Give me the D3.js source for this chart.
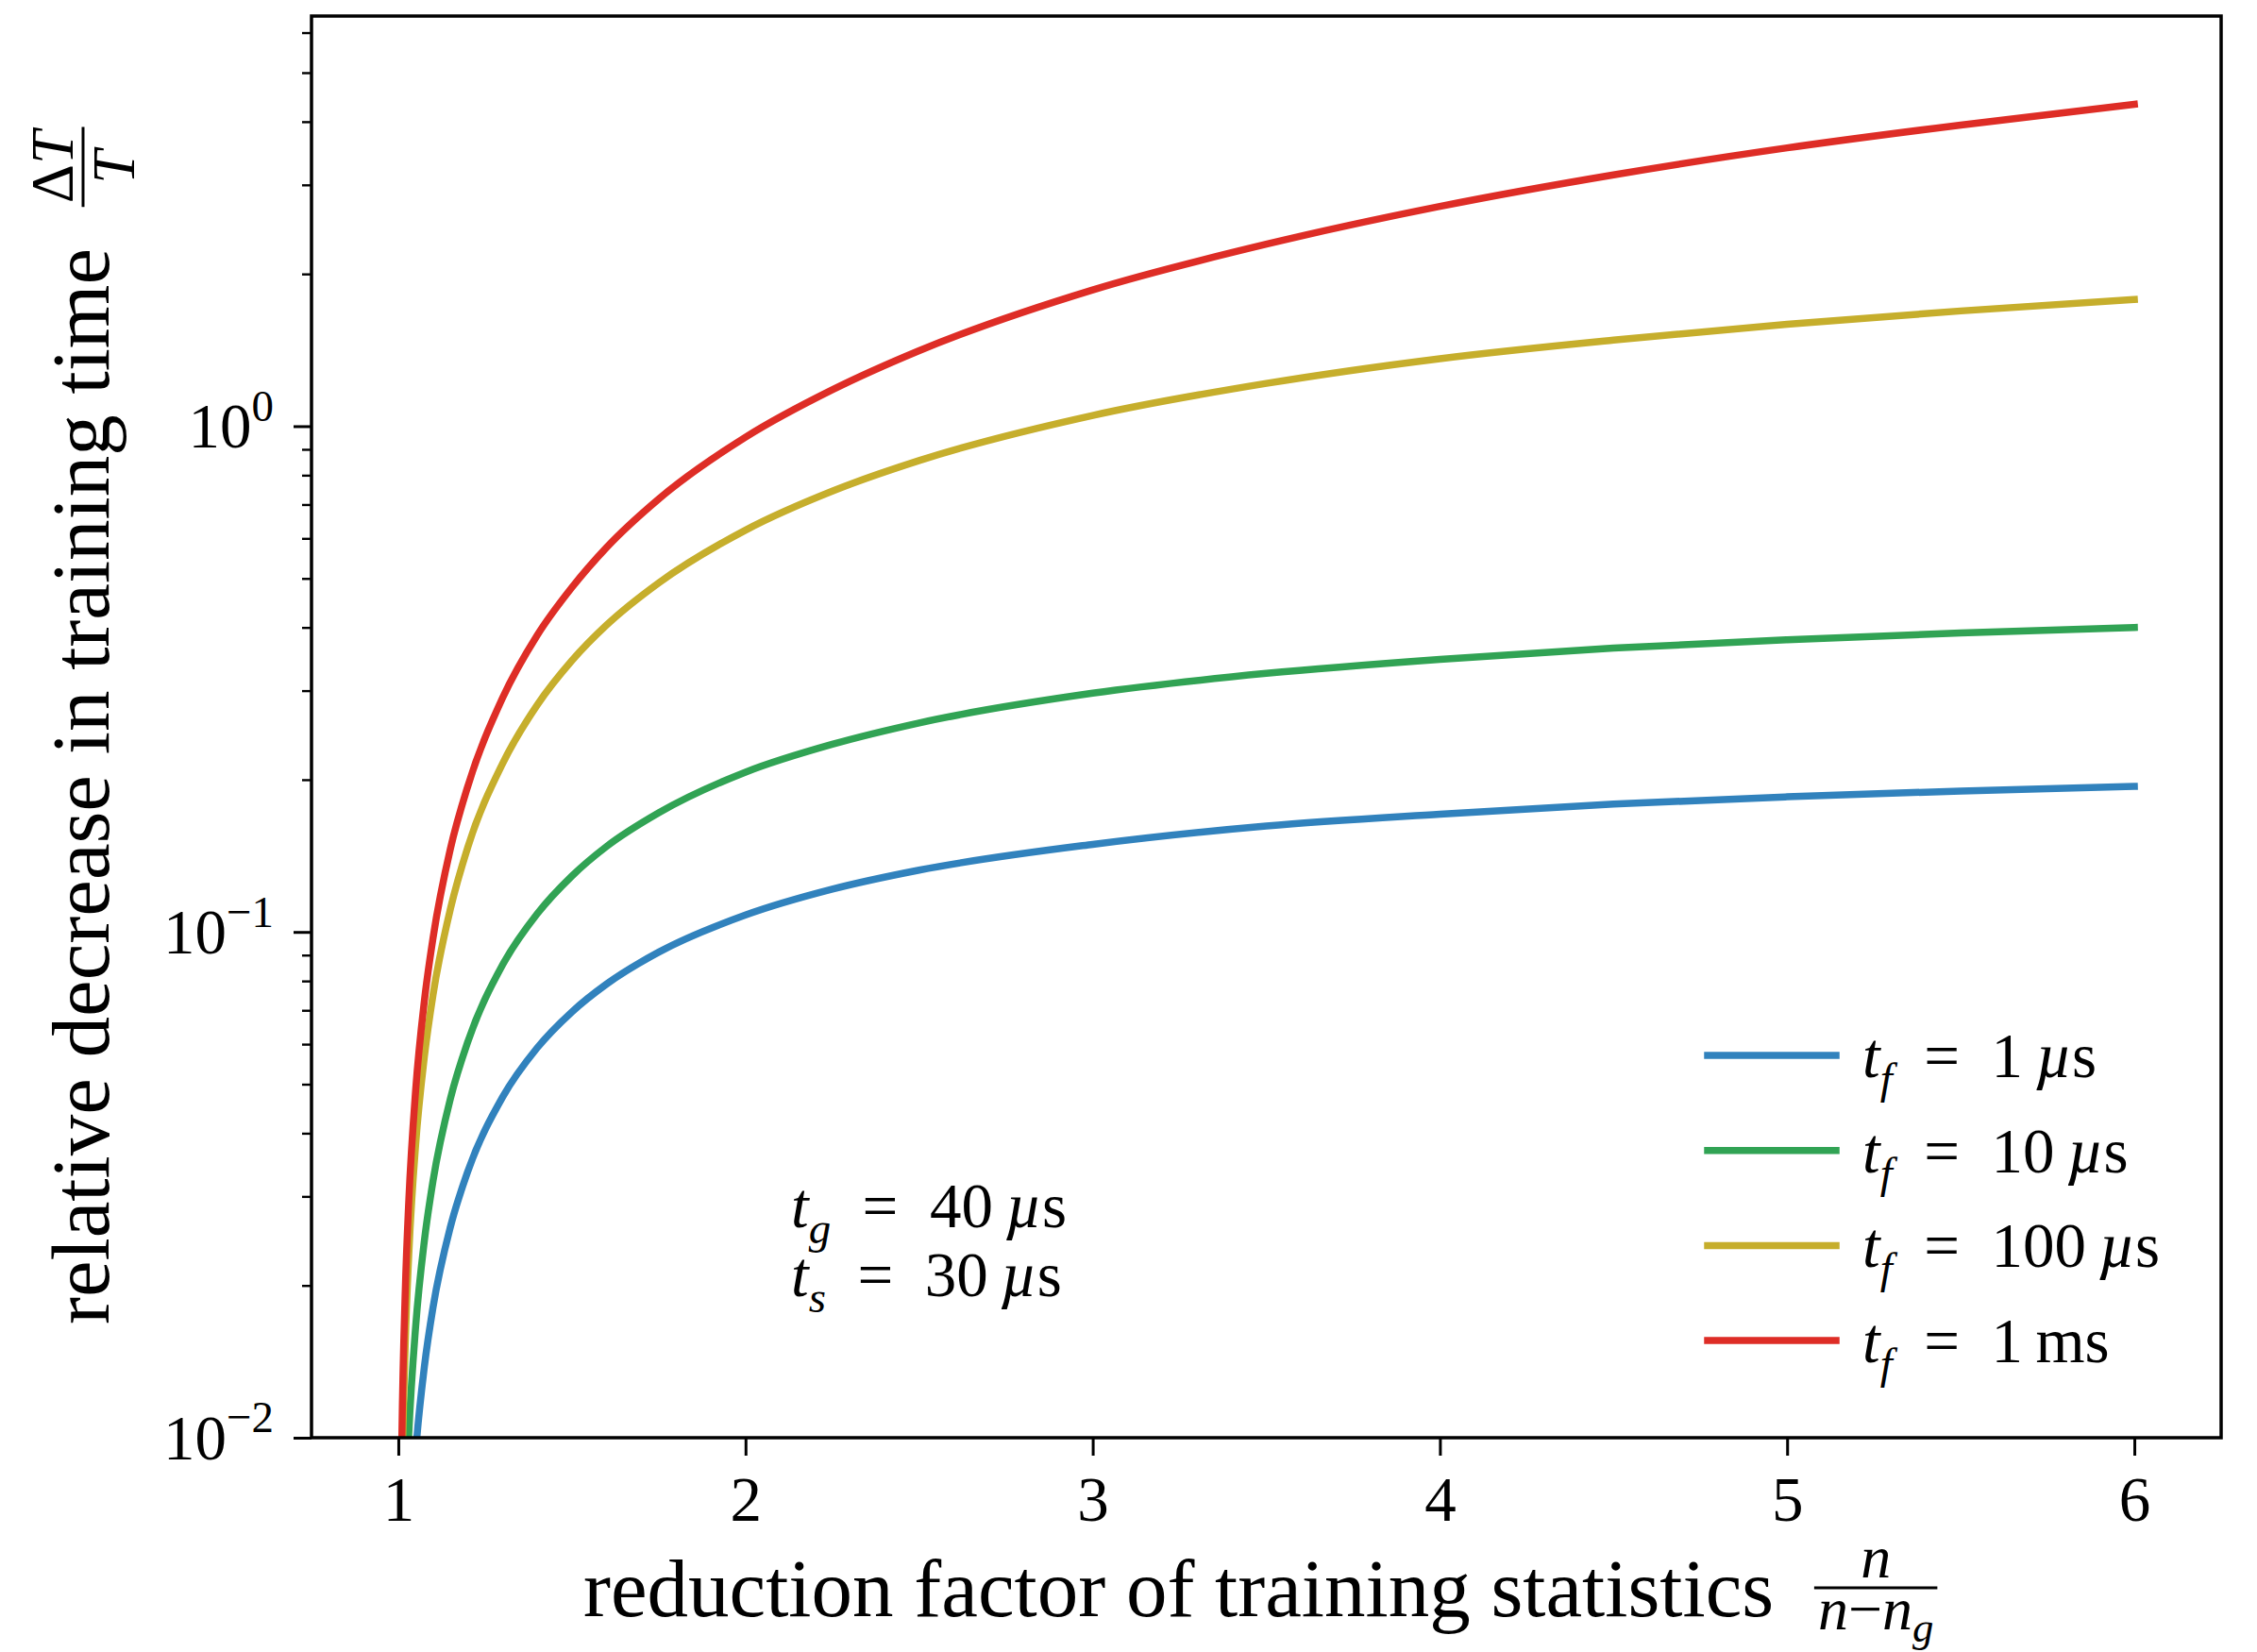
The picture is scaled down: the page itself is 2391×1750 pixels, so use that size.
<!DOCTYPE html>
<html>
<head>
<meta charset="utf-8">
<script src="https://cdn.jsdelivr.net/npm/d3@7"></script>
<style>
  body { margin: 0; background: #fff; }
  svg { display: block; }
  text { font-family: "Liberation Serif", "DejaVu Serif", serif; fill: #000; white-space: pre; }
</style>
</head>
<body>
<div id="chart"></div>
<script>
// reduction factor n/(n-n_g), shared x values of all curves
const ratio = [1.005, 1.01, 1.02, 1.03, 1.05, 1.075, 1.1, 1.15, 1.2, 1.3, 1.4, 1.5, 1.6, 1.75, 2, 2.25, 2.5, 3, 3.5, 4, 4.5, 5, 5.5, 6];

// relative decrease in training time
const tf1us = [0.00097, 0.00193, 0.00384, 0.00571, 0.00937, 0.0138, 0.0181, 0.0261, 0.0336, 0.0471, 0.059, 0.0695, 0.0789, 0.0912, 0.108, 0.1215, 0.1325, 0.149, 0.162, 0.171, 0.179, 0.185, 0.19, 0.194];
const tf10us = [0.00171, 0.0034, 0.00677, 0.0101, 0.0166, 0.0245, 0.0322, 0.0468, 0.0606, 0.086, 0.1086, 0.129, 0.1476, 0.172, 0.207, 0.235, 0.259, 0.2965, 0.3245, 0.346, 0.364, 0.378, 0.39, 0.4];
const tf100us = [0.00384, 0.00766, 0.0153, 0.0229, 0.038, 0.0566, 0.0751, 0.111, 0.147, 0.215, 0.281, 0.344, 0.4045, 0.49, 0.623, 0.744, 0.855, 1.05, 1.215, 1.36, 1.48, 1.59, 1.69, 1.78];
const tf1ms = [0.00487, 0.00975, 0.0195, 0.0292, 0.0487, 0.073, 0.0973, 0.146, 0.194, 0.29, 0.386, 0.48, 0.576, 0.718, 0.951, 1.18, 1.41, 1.86, 2.29, 2.72, 3.14, 3.55, 3.94, 4.33];

const tfValue = ["1", "10", "100", "1"];
const tfUnit = ["µs", "µs", "µs", "ms"];
const colors = ["#3182bd", "#31a354", "#c6ae2c", "#de2d26"];

const xTicks = [1, 2, 3, 4, 5, 6];
const yMajor = [0.01, 0.1, 1];
const yMajorExp = ["\u22122", "\u22121", "0"];
const yMinor = [0.02, 0.03, 0.04, 0.05, 0.06, 0.07, 0.08, 0.09,
  0.2, 0.3, 0.4, 0.5, 0.6, 0.7, 0.8, 0.9, 2, 3, 4, 5, 6];

const series = [tf1us, tf10us, tf100us, tf1ms].map((values, i) => ({
  values, color: colors[i], tf: tfValue[i], unit: tfUnit[i]
}));

const width = 2391;
const height = 1750;
const margin = { top: 17, right: 38, bottom: 227, left: 330 };
const tickFont = 67;
const labelFont = 87;

const x = d3.scaleLinear()
  .domain([0.75, 6.25])
  .range([margin.left, width - margin.right]);

const y = d3.scaleLog()
  .domain([0.01, 6.47])
  .range([height - margin.bottom, margin.top]);

const svg = d3.create("svg")
  .attr("width", width)
  .attr("height", height)
  .attr("viewBox", [0, 0, width, height]);

// attach first so text can be measured
document.getElementById("chart").append(svg.node());

svg.append("rect").attr("width", width).attr("height", height).attr("fill", "#fff");

// math-ish text: parts are [string, kind] with kind r / i / sub / sup
function addMath(text, parts, size, subShift = 0.25) {
  let shift = 0;
  parts.forEach(([s, kind]) => {
    const small = kind === "sub" || kind === "sup";
    const target = kind === "sub" ? subShift * size : kind === "sup" ? -0.42 * size : 0;
    text.append("tspan")
      .attr("dy", target - shift)
      .attr("font-size", small ? size * 0.7 : size)
      .attr("font-style", kind === "i" || kind === "sub" ? "italic" : "normal")
      .text(s);
    shift = target;
  });
  return text;
}

svg.append("clipPath").attr("id", "plot-clip")
  .append("rect")
  .attr("x", margin.left)
  .attr("y", margin.top)
  .attr("width", width - margin.left - margin.right)
  .attr("height", height - margin.top - margin.bottom);

const line = d3.line()
  .x((d, i) => x(ratio[i]))
  .y((d) => y(d))
  .curve(d3.curveMonotoneX);

svg.append("g")
  .attr("clip-path", "url(#plot-clip)")
  .selectAll("path")
  .data(series)
  .join("path")
  .attr("fill", "none")
  .attr("stroke", (d) => d.color)
  .attr("stroke-width", 7.5)
  .attr("stroke-linecap", "square")
  .attr("stroke-linejoin", "round")
  .attr("d", (d) => line(d.values));

// x axis
const gx = svg.append("g")
  .attr("transform", `translate(0,${height - margin.bottom})`)
  .call(d3.axisBottom(x).tickValues(xTicks).tickSize(19).tickFormat(d3.format("d")));
gx.select(".domain").remove();
gx.selectAll(".tick line").attr("stroke", "#000").attr("stroke-width", 3);
gx.selectAll(".tick text")
  .attr("y", 88).attr("dy", null)
  .attr("font-size", tickFont)
  .attr("font-family", "Liberation Serif");

// y axis: minor then major
const gyMinor = svg.append("g")
  .attr("transform", `translate(${margin.left},0)`)
  .call(d3.axisLeft(y).tickValues(yMinor).tickSize(10).tickFormat(""));
gyMinor.select(".domain").remove();
gyMinor.selectAll(".tick line").attr("stroke", "#000").attr("stroke-width", 2.4);

const gy = svg.append("g")
  .attr("transform", `translate(${margin.left},0)`)
  .call(d3.axisLeft(y).tickValues(yMajor).tickSize(19).tickFormat(""));
gy.select(".domain").remove();
gy.selectAll(".tick line").attr("stroke", "#000").attr("stroke-width", 3);
gy.selectAll(".tick text").remove();
gy.selectAll(".tick").each(function (d, i) {
  const t = d3.select(this).append("text")
    .attr("x", -40)
    .attr("y", 22)
    .attr("text-anchor", "end")
    .attr("font-size", tickFont);
  addMath(t, [["10", "r"], [yMajorExp[i], "sup"]], tickFont);
});

// frame
svg.append("rect")
  .attr("x", margin.left)
  .attr("y", margin.top)
  .attr("width", width - margin.left - margin.right)
  .attr("height", height - margin.top - margin.bottom)
  .attr("fill", "none")
  .attr("stroke", "#000")
  .attr("stroke-width", 3.5);

// fraction helper, centred at cx with bar at local y = 0
function fraction(g, cx, num, den, size, denBase) {
  const tn = addMath(g.append("text").attr("text-anchor", "middle").attr("x", cx).attr("y", -11), num, size);
  const td = addMath(g.append("text").attr("text-anchor", "middle").attr("x", cx).attr("y", denBase), den, size, 0.2);
  const w = Math.max(tn.node().getComputedTextLength(), td.node().getComputedTextLength()) + 8;
  g.append("line")
    .attr("x1", cx - w / 2).attr("x2", cx + w / 2)
    .attr("stroke", "#000").attr("stroke-width", 3);
}

// x label
const xl = svg.append("g");
const xlText = xl.append("text")
  .attr("x", 618)
  .attr("y", 1712)
  .attr("font-size", labelFont)
  .text("reduction factor of training statistics");
const xlEnd = 618 + xlText.node().getComputedTextLength();
const xfrac = xl.append("g").attr("transform", `translate(0,1682)`);
fraction(xfrac, xlEnd + 108, [["n", "i"]], [["n", "i"], ["\u2212", "r"], ["n", "i"], ["g", "sub"]], 64, 44);

// y label, rotated
const yl = svg.append("g").attr("transform", "translate(115,1403) rotate(-90)");
const ylText = yl.append("text")
  .attr("x", 0)
  .attr("y", 0)
  .attr("font-size", labelFont)
  .text("relative decrease in training time");
const ylEnd = ylText.node().getComputedTextLength();
const yfrac = yl.append("g").attr("transform", `translate(0,-27)`);
fraction(yfrac, ylEnd + 86, [["\u0394", "r"], ["T", "i"]], [["T", "i"]], 64, 54);

// legend
const legend = svg.append("g")
  .selectAll("g")
  .data(series)
  .join("g")
  .attr("transform", (d, i) => `translate(0,${1118 + i * 100.7})`);
legend.append("line")
  .attr("x1", 1809).attr("x2", 1945)
  .attr("stroke", (d) => d.color)
  .attr("stroke-width", 7.5)
  .attr("stroke-linecap", "square");
legend.each(function (d) {
  const t = d3.select(this).append("text")
    .attr("x", 1973)
    .attr("y", 23)
    .attr("font-size", tickFont);
  const unit = d.unit === "µs" ? [["µ", "i"], ["s", "r"]] : [["ms", "r"]];
  addMath(t, [["t", "i"], ["f", "sub"], ["\u2002=\u2002", "r"], [d.tf + "\u2009", "r"], ...unit], tickFont);
});

// annotation
const notes = [["g", "40"], ["s", "30"]];
notes.forEach(([sub, val], i) => {
  const t = svg.append("text")
    .attr("x", 838)
    .attr("y", 1300 + i * 73)
    .attr("font-size", tickFont);
  addMath(t, [["t", "i"], [sub, "sub"], ["\u2002=\u2002", "r"], [val + "\u2009", "r"], ["µ", "i"], ["s", "r"]], tickFont);
});
</script>
</body>
</html>
